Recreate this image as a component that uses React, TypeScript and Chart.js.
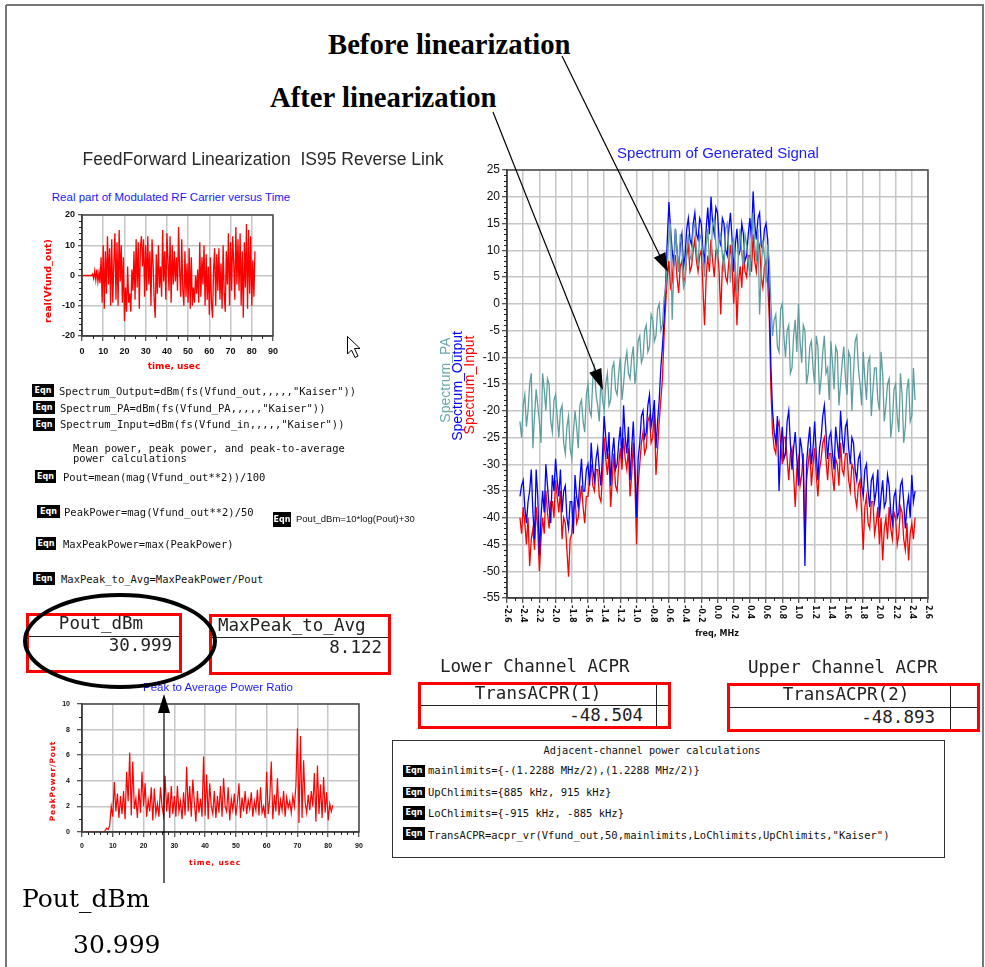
import React, { useEffect, useRef } from "react";
import { Chart, registerables } from "chart.js";

Chart.register(...registerables);

// ---------------- DATA ----------------
// Spectrum of Generated Signal (dBm) sampled on a frequency grid (MHz)
const SPEC_FREQ_START = -2.44;
const SPEC_FREQ_STEP = 0.02;

const spectrumPA = [
  -22, -25, -19, -17, -23, -20, -15, -13, -27, -21, -16, -19, -22, -26, -13, -16, -20, -14, -15, -22,
  -24, -18, -17, -21, -25, -20, -19, -26, -28, -23, -21, -27, -29, -24, -20, -23, -27, -19, -18, -22,
  -24, -17, -15, -20, -21, -14, -12, -17, -19, -22, -14, -18, -20, -15, -13, -19, -18, -12, -11, -16,
  -17, -13, -10, -18, -15, -11, -9, -13, -14, -10, -8, -15, -12, -7, -6, -11, -10, -5, -4, -9,
  -8, -2, -3, -7, -6, -1, 0, -5, -4, 1, 3, 9, 12, 15, -3, 6, 14, 10, 6, 13,
  11, 3, 4, 10, 13, 9, 8, 14, 15, 10, 7, 13, 12, 9, 5, 11, 14, 8, 9, 15,
  16, 11, 8, 12, 13, 9, 6, 14, 15, 10, 4, 11, 12, 7, 2, 10, 14, 9, 7, 13,
  11, 8, 5, 12, 17, 11, 8, 14, -2, 6, 12, 9, 4, 11, 8, 0, -6, -3, -2, -8,
  -9, -1, 0, -6, -10, -5, -4, -13, -12, -6, -3, -9, 0, -7, -11, -4, -5, -15, -13, -8,
  -7, -12, -15, -6, -8, -17, -14, -9, -6, -13, -12, -18, -7, -11, -16, -8, -9, -19, -15, -11,
  -8, -14, -17, -9, -10, -20, -13, -7, -6, -12, -15, -19, -9, -14, -18, -11, -10, -21, -16, -12,
  -12, -18, -20, -9, -13, -22, -19, -15, -14, -25, -22, -16, -15, -21, -24, -13, -17, -26, -23, -16,
  -14, -22, -21, -12, -18,
];

const spectrumOutput = [
  -36, -34, -33, -38, -41, -37, -35, -31, -39, -44, -31, -36, -47, -40, -35, -39, -30, -34, -38, -41,
  -32, -35, -29, -33, -36, -31, -39, -35, -34, -40, -42, -37, -37, -43, -32, -36, -38, -33, -29, -35,
  -35, -31, -30, -34, -26, -31, -33, -29, -27, -31, -34, -28, -21, -25, -29, -24, -34, -28, -25, -31,
  -30, -26, -23, -29, -19, -25, -28, -23, -33, -27, -22, -30, -40, -29, -26, -21, -20, -25, -24, -19,
  -17, -23, -21, -18, -27, -22, -18, -12, -8, -3, 4, 12, 19, 14, 10, 7, 14, 10, 6, 11,
  13, 7, 9, 14, 16, 12, 11, 15, 17, 13, 12, 16, 15, 10, 8, 14, 18, 13, 20, 15,
  13, 18, 17, 12, 11, 16, 15, 10, 9, 14, 17, 12, 6, 11, 14, 9, 10, 15, 13, 8,
  9, 13, 16, 12, 21, 15, 12, 16, 17, 11, 10, 14, 15, 12, 2, -12, -20, -24, -26, -21,
  -35, -27, -23, -29, -28, -22, -20, -26, -31, -27, -24, -29, -34, -25, -27, -31, -49, -30, -26, -23,
  -30, -27, -22, -28, -33, -27, -25, -21, -19, -24, -29, -25, -24, -28, -31, -23, -26, -29, -20, -25,
  -28, -23, -22, -27, -30, -25, -26, -31, -33, -29, -28, -34, -36, -31, -30, -35, -38, -33, -32, -37,
  -35, -31, -40, -36, -33, -38, -37, -32, -34, -39, -41, -36, -35, -40, -39, -34, -33, -37, -42, -38,
  -36, -40, -32, -37, -35,
];

const spectrumInput = [
  -40, -43, -38, -41, -45, -40, -49, -44, -42, -46, -38, -42, -50, -44, -40, -43, -35, -39, -42, -37,
  -37, -40, -33, -36, -39, -35, -44, -40, -41, -46, -51, -44, -43, -39, -36, -41, -40, -37, -34, -38,
  -41, -36, -36, -33, -30, -34, -35, -31, -31, -36, -37, -32, -25, -29, -32, -28, -38, -33, -28, -34,
  -35, -30, -27, -31, -25, -29, -31, -27, -36, -32, -26, -33, -45, -34, -30, -26, -24, -28, -27, -22,
  -21, -26, -25, -20, -32, -27, -22, -18, -14, -6, 0, 5, 8, 3, 4, 9, 9, 5, 2, 7,
  8, 4, 5, 9, 11, 6, 7, 10, 12, 8, 6, 9, 10, 3, -4, 5, 9, 6, 12, 8,
  5, 10, 10, 6, -2, 7, 9, 5, 4, 8, 11, 7, 0, 6, -4, 4, 7, 3, 10, 6,
  5, 9, 9, 6, 13, 8, 6, 10, 11, 5, 3, 7, 8, 4, -3, -16, -24, -27, -28, -23,
  -22, -26, -30, -25, -25, -29, -33, -28, -27, -32, -38, -31, -29, -34, -32, -28, -45, -33, -30, -27,
  -34, -30, -27, -32, -36, -31, -29, -26, -25, -29, -33, -28, -28, -32, -35, -29, -30, -34, -26, -31,
  -32, -28, -28, -33, -35, -30, -31, -36, -38, -34, -33, -39, -46, -38, -36, -41, -42, -37, -37, -43,
  -41, -38, -45, -40, -48, -42, -40, -44, -38, -42, -44, -39, -40, -45, -43, -38, -39, -44, -46, -41,
  -48, -43, -41, -44, -40,
];

const specXTickValues = [
  -2.6, -2.4, -2.2, -2.0, -1.8, -1.6, -1.4, -1.2, -1.0, -0.8, -0.6, -0.4, -0.2,
  0.0, 0.2, 0.4, 0.6, 0.8, 1.0, 1.2, 1.4, 1.6, 1.8, 2.0, 2.2, 2.4, 2.6,
];
const specXTickLabels = [
  "-2.6", "-2.4", "-2.2", "-2.0", "-1.8", "-1.6", "-1.4", "-1.2", "-1.0", "-0.8", "-0.6", "-0.4", "-0.2",
  "0.0", "0.2", "0.4", "0.6", "0.8", "1.0", "1.2", "1.4", "1.6", "1.8", "2.0", "2.2", "2.4", "2.6",
];
const specYTickValues = [-55, -50, -45, -40, -35, -30, -25, -20, -15, -10, -5, 0, 5, 10, 15, 20, 25];
const specYTickLabels = ["-55", "-50", "-45", "-40", "-35", "-30", "-25", "-20", "-15", "-10", "-5", "0", "5", "10", "15", "20", "25"];

// Real part of modulated RF carrier versus time (usec)
const TIME_START = 0;
const TIME_STEP = 0.5;
const realVfundOut = [
  0, 0, 0, 0, 0, 0, 0, 0, 0, 0,
  0.5, -1, 1.5, -1.5, 2, -2, 1, -2.5,
  6, -9, 10, -11, 8, -6, 13, -3, 9, -10,
  12, -9, 4, 14, -8, 11, -10, 15, -2, 10,
  -9, 6, -15, -4, -12, 3, -9, -6, -12, 2,
  -5, 8, -8, 12, -4, 11, -11, 9, 13, 3,
  12, -7, 10, -5, 13, -3, 8, -10, 12, 4,
  -8, -14, 7, -6, 10, -4, 3, -7, 15, -2,
  8, -8, 14, 5, -5, 13, -9, 10, -3, 8,
  -2, 6, -5, 16, 2, -7, 12, -5, -10, 8,
  -7, 4, -9, 9, -11, 6, -10, -4, -9, 0,
  -6, 2, -9, 11, -7, 6, -3, 10, -10, 7,
  -8, 3, -13, 6, -9, -14, 2, 9, -10, 7,
  -5, 9, -8, 4, -11, 10, -6, -12, 8, -3,
  14, -10, 11, -5, 13, 4, -8, 16, -3, 12,
  -5, 14, -10, 8, -14, 11, -4, 17, -11, 15,
  -6, 13, -10, 5, -7, 8,
];
const timeXTickValues = [0, 10, 20, 30, 40, 50, 60, 70, 80, 90];
const timeXTickLabels = ["0", "10", "20", "30", "40", "50", "60", "70", "80", "90"];
const timeYTickValues = [-20, -10, 0, 10, 20];
const timeYTickLabels = ["-20", "-10", "0", "10", "20"];

// Peak to average power ratio versus time (usec)
const peakToAvg = [
  0, 0, 0, 0, 0, 0, 0, 0, 0, 0,
  0, 0, 0, 0, 0, 0.1, 0.3, 0.2,
  0.5, 2.0, 1.2, 3.9, 1.6, 3.0, 1.1, 2.8, 1.4, 3.2,
  1.0, 4.7, 2.4, 6.2, 1.3, 5.5, 1.8, 2.6, 1.1, 3.4,
  1.5, 4.7, 2.0, 3.8, 1.2, 2.5, 1.6, 3.5, 0.9, 3.4,
  1.4, 2.2, 1.2, 3.5, 2.0, 1.3, 4.4, 1.6, 3.1, 1.1,
  3.6, 1.4, 2.8, 1.2, 3.6, 1.6, 2.4, 1.0, 3.1, 1.3,
  5.1, 1.6, 3.6, 1.2, 4.1, 2.3, 0.8, 3.2, 1.5, 2.6,
  1.2, 5.9, 1.3, 4.5, 1.0, 3.8, 2.0, 1.4, 3.2, 1.1,
  2.8, 1.5, 3.6, 1.2, 4.2, 2.0, 1.6, 3.5, 0.9, 2.6,
  1.7, 3.0, 1.3, 2.3, 3.8, 1.1, 2.7, 1.6, 3.2, 1.4,
  2.5, 1.8, 3.1, 1.2, 2.4, 1.7, 3.3, 1.3, 3.5, 1.5,
  2.0, 1.1, 4.7, 1.4, 2.6, 5.5, 1.0, 2.9, 1.6, 4.2,
  1.3, 2.5, 1.7, 3.2, 1.2, 2.7, 1.9, 2.4, 1.5, 2.8,
  2.0, 3.6, 8.1, 0.7, 7.5, 1.1, 5.6, 2.3, 1.5, 2.9,
  1.7, 3.2, 2.0, 4.6, 0.8, 5.2, 1.4, 3.7, 1.1, 4.3,
  1.5, 3.1, 0.9, 2.2, 1.6, 2.1,
];
const parXTickValues = [0, 10, 20, 30, 40, 50, 60, 70, 80, 90];
const parXTickLabels = ["0", "10", "20", "30", "40", "50", "60", "70", "80", "90"];
const parYTickValues = [0, 2, 4, 6, 8, 10];
const parYTickLabels = ["0", "2", "4", "6", "8", "10"];

// ---------------- STYLE ----------------
const SANS = "'Liberation Sans', Arial, sans-serif";
const MONO = "'DejaVu Sans Mono', 'Liberation Mono', monospace";
const DJS = "'DejaVu Sans', sans-serif";
const GRID = "#c6c6c6";
const TEAL = "#5f9ea0";
const BLUE = "#0000ff";
const RED = "#ff0000";

type Series = { values: number[]; x0: number; dx: number; color: string };
type PlotSpec = {
  series: Series[];
  xTicks: number[];
  xLabels: string[];
  yTicks: number[];
  yLabels: string[];
  yAxisWidth: number;
  xAxisHeight: number;
  padTop: number;
  padRight: number;
  tickFont: { family: string; size: number; weight: string };
  yTickLen: number;
  yTickPad: number;
  xTickLen: number;
  xTickPad: number;
  xMinorDiv: number;
  yMinorDiv: number;
  rotatedX?: { font: string; offset: number };
  lineWidth: number;
};

function buildConfig(p: PlotSpec): any {
  const decor = {
    id: "decor",
    afterDraw(chart: any) {
      const { ctx, chartArea: a } = chart;
      const xs = chart.scales.x;
      const ys = chart.scales.y;
      ctx.save();
      ctx.strokeStyle = "#4a4a4a";
      ctx.lineWidth = 1.5;
      ctx.strokeRect(a.left, a.top, a.right - a.left, a.bottom - a.top);
      ctx.strokeStyle = "#222";
      ctx.lineWidth = 1;
      for (let i = 0; i < p.xTicks.length - 1; i++) {
        for (let j = 1; j < p.xMinorDiv; j++) {
          const v = p.xTicks[i] + ((p.xTicks[i + 1] - p.xTicks[i]) * j) / p.xMinorDiv;
          const px = Math.round(xs.getPixelForValue(v)) + 0.5;
          ctx.beginPath();
          ctx.moveTo(px, a.bottom);
          ctx.lineTo(px, a.bottom + 3);
          ctx.stroke();
        }
      }
      for (let i = 0; i < p.yTicks.length - 1; i++) {
        for (let j = 1; j < p.yMinorDiv; j++) {
          const v = p.yTicks[i] + ((p.yTicks[i + 1] - p.yTicks[i]) * j) / p.yMinorDiv;
          const py = Math.round(ys.getPixelForValue(v)) + 0.5;
          ctx.beginPath();
          ctx.moveTo(a.left - 3, py);
          ctx.lineTo(a.left, py);
          ctx.stroke();
        }
      }
      if (p.rotatedX) {
        ctx.fillStyle = "#111";
        ctx.font = p.rotatedX.font;
        ctx.textAlign = "left";
        ctx.textBaseline = "middle";
        p.xTicks.forEach((v, i) => {
          const px = xs.getPixelForValue(v);
          ctx.save();
          ctx.translate(px, a.bottom + p.rotatedX!.offset);
          ctx.rotate(Math.PI / 2);
          ctx.fillText(p.xLabels[i], 0, 0);
          ctx.restore();
        });
      }
      ctx.restore();
    },
  };

  return {
    type: "line",
    data: {
      datasets: p.series.map((s) => ({
        data: s.values.map((v, i) => ({ x: s.x0 + i * s.dx, y: v })),
        borderColor: s.color,
        backgroundColor: s.color,
        borderWidth: p.lineWidth,
        pointRadius: 0,
        tension: 0,
        fill: false,
      })),
    },
    options: {
      responsive: false,
      animation: false,
      devicePixelRatio: 1,
      events: [],
      layout: { padding: { top: p.padTop, right: p.padRight, left: 0, bottom: 0 } },
      plugins: { legend: { display: false }, title: { display: false }, tooltip: { enabled: false } },
      scales: {
        x: {
          type: "linear",
          min: p.xTicks[0],
          max: p.xTicks[p.xTicks.length - 1],
          afterBuildTicks: (s: any) => {
            s.ticks = p.xTicks.map((v) => ({ value: v }));
          },
          afterFit: (s: any) => {
            s.height = p.xAxisHeight;
          },
          grid: { color: GRID, lineWidth: 1.5, tickLength: p.xTickLen, tickColor: "#222", tickWidth: 1 },
          border: { color: "#222", width: 1.5 },
          ticks: {
            display: !p.rotatedX,
            autoSkip: false,
            maxRotation: 0,
            minRotation: 0,
            padding: p.xTickPad,
            color: "#111",
            font: p.tickFont,
            callback: (_v: any, i: number) => p.xLabels[i],
          },
        },
        y: {
          type: "linear",
          min: p.yTicks[0],
          max: p.yTicks[p.yTicks.length - 1],
          afterBuildTicks: (s: any) => {
            s.ticks = p.yTicks.map((v) => ({ value: v }));
          },
          afterFit: (s: any) => {
            s.width = p.yAxisWidth;
          },
          grid: { color: GRID, lineWidth: 1.5, tickLength: p.yTickLen, tickColor: "#222", tickWidth: 1 },
          border: { color: "#222", width: 1.5 },
          ticks: {
            autoSkip: false,
            padding: p.yTickPad,
            color: "#111",
            font: p.tickFont,
            callback: (_v: any, i: number) => p.yLabels[i],
          },
        },
      },
    },
    plugins: [decor],
  };
}

function ChartCanvas(props: { left: number; top: number; width: number; height: number; spec: PlotSpec }) {
  const ref = useRef<HTMLCanvasElement | null>(null);
  useEffect(() => {
    const chart = new Chart(ref.current as HTMLCanvasElement, buildConfig(props.spec));
    return () => chart.destroy();
  }, []);
  return (
    <canvas
      ref={ref}
      width={props.width}
      height={props.height}
      style={{ position: "absolute", left: props.left, top: props.top, width: props.width, height: props.height }}
    />
  );
}

function T(props: {
  x: number;
  y: number;
  text: string;
  size: number;
  family?: string;
  color?: string;
  weight?: string | number;
  align?: "left" | "center" | "right";
  rotate?: number;
  spacing?: number;
}) {
  const align = props.align || "left";
  const tx = align === "left" ? "0" : align === "center" ? "-50%" : "-100%";
  const transform = props.rotate
    ? `translate(-50%, -50%) rotate(${props.rotate}deg)`
    : `translate(${tx}, -50%)`;
  return (
    <div
      style={{
        position: "absolute",
        left: props.x,
        top: props.y,
        transform,
        fontSize: props.size,
        fontFamily: props.family || SANS,
        color: props.color || "#111",
        fontWeight: props.weight || "normal",
        letterSpacing: props.spacing || 0,
        lineHeight: 1,
        whiteSpace: "pre",
      }}
    >
      {props.text}
    </div>
  );
}

function EqnBox(props: { x: number; y: number; w?: number; h?: number }) {
  const w = props.w || 22;
  const h = props.h || 13;
  return (
    <div
      style={{
        position: "absolute",
        left: props.x,
        top: props.y - h / 2,
        width: w,
        height: h,
        background: "#000",
        color: "#fff",
        fontFamily: DJS,
        fontSize: 8,
        fontWeight: "bold",
        lineHeight: `${h}px`,
        textAlign: "center",
      }}
    >
      Eqn
    </div>
  );
}

function Box(props: { x: number; y: number; w: number; h: number; border: string }) {
  return (
    <div
      style={{
        position: "absolute",
        left: props.x,
        top: props.y,
        width: props.w,
        height: props.h,
        border: props.border,
        boxSizing: "border-box",
      }}
    />
  );
}

function Line(props: { x: number; y: number; w: number; h: number; color?: string }) {
  return (
    <div
      style={{ position: "absolute", left: props.x, top: props.y, width: props.w, height: props.h, background: props.color || "#222" }}
    />
  );
}

function arrowHead(x1: number, y1: number, x2: number, y2: number, len: number, half: number) {
  const dx = x2 - x1;
  const dy = y2 - y1;
  const d = Math.sqrt(dx * dx + dy * dy);
  const ux = dx / d;
  const uy = dy / d;
  const bx = x2 - ux * len;
  const by = y2 - uy * len;
  return `${x2},${y2} ${bx - uy * half},${by + ux * half} ${bx + uy * half},${by - ux * half}`;
}

const spectrumSpec: PlotSpec = {
  series: [
    { values: spectrumPA, x0: SPEC_FREQ_START, dx: SPEC_FREQ_STEP, color: TEAL },
    { values: spectrumOutput, x0: SPEC_FREQ_START, dx: SPEC_FREQ_STEP, color: BLUE },
    { values: spectrumInput, x0: SPEC_FREQ_START, dx: SPEC_FREQ_STEP, color: RED },
  ],
  xTicks: specXTickValues,
  xLabels: specXTickLabels,
  yTicks: specYTickValues,
  yLabels: specYTickLabels,
  yAxisWidth: 77,
  xAxisHeight: 52,
  padTop: 30,
  padRight: 22,
  tickFont: { family: SANS, size: 12, weight: "normal" },
  yTickLen: 5,
  yTickPad: 2,
  xTickLen: 5,
  xTickPad: 2,
  xMinorDiv: 2,
  yMinorDiv: 5,
  rotatedX: { font: `bold 8px ${DJS}`, offset: 7 },
  lineWidth: 1.3,
};

const timeSpec: PlotSpec = {
  series: [{ values: realVfundOut, x0: TIME_START, dx: TIME_STEP, color: RED }],
  xTicks: timeXTickValues,
  xLabels: timeXTickLabels,
  yTicks: timeYTickValues,
  yLabels: timeYTickLabels,
  yAxisWidth: 62,
  xAxisHeight: 49,
  padTop: 10,
  padRight: 17,
  tickFont: { family: SANS, size: 9, weight: "bold" },
  yTickLen: 4,
  yTickPad: 3,
  xTickLen: 5,
  xTickPad: 5,
  xMinorDiv: 2,
  yMinorDiv: 5,
  lineWidth: 1.3,
};

const parSpec: PlotSpec = {
  series: [{ values: peakToAvg, x0: TIME_START, dx: TIME_STEP, color: RED }],
  xTicks: parXTickValues,
  xLabels: parXTickLabels,
  yTicks: parYTickValues,
  yLabels: parYTickLabels,
  yAxisWidth: 62,
  xAxisHeight: 48,
  padTop: 14,
  padRight: 11,
  tickFont: { family: SANS, size: 7, weight: "bold" },
  yTickLen: 5,
  yTickPad: 7,
  xTickLen: 5,
  xTickPad: 5,
  xMinorDiv: 5,
  yMinorDiv: 2,
  lineWidth: 1.2,
};

export default function App() {
  const eqFont = 10.5;
  const tblFont = 17.5;
  const serifBold = "'Liberation Serif', 'Times New Roman', serif";
  return (
    <div
      style={{
        position: "fixed",
        left: 0,
        top: 0,
        width: 985,
        height: 967,
        background: "#fff",
        overflow: "hidden",
      }}
    >
      {/* Charts */}
      <ChartCanvas left={430} top={140} width={520} height={510} spec={spectrumSpec} />
      <ChartCanvas left={20} top={205} width={270} height={180} spec={timeSpec} />
      <ChartCanvas left={20} top={690} width={350} height={190} spec={parSpec} />

      {/* Titles */}
      <T x={263} y={160} text={"FeedForward Linearization  IS95 Reverse Link"} size={17.5} color="#2a2a2a" align="center" />
      <T x={171} y={198} text="Real part of Modulated RF Carrier versus Time" size={11.5} color="#1a1aff" align="center" />
      <T x={718} y={152} text="Spectrum of Generated Signal" size={15} color="#1a1aff" align="center" />
      <T x={218} y={688} text="Peak to Average Power Ratio" size={11.5} color="#1a1aff" align="center" />

      {/* Axis titles */}
      <T x={48} y={281} text="real(Vfund_out)" size={9.5} family={DJS} weight="bold" color={RED} rotate={-90} />
      <T x={174} y={366} text="time, usec" size={9} family={DJS} weight="bold" color={RED} align="center" />
      <T x={53} y={781} text="PeakPower/Pout" size={7.5} family={DJS} weight="bold" color={RED} rotate={-90} spacing={0.8} />
      <T x={215} y={863} text="time, usec" size={7.5} family={DJS} weight="bold" color={RED} align="center" spacing={0.8} />
      <T x={717} y={634} text="freq, MHz" size={8} family={DJS} weight="bold" color="#111" align="center" />
      <T x={445} y={380} text="Spectrum_PA" size={14} color="#6aa9ac" rotate={-90} />
      <T x={457} y={386} text="Spectrum_Output" size={14} color={BLUE} rotate={-90} />
      <T x={469} y={385} text="Spectrum_Input" size={14} color={RED} rotate={-90} />

      {/* Equations (left) */}
      <EqnBox x={32} y={390} />
      <T x={59} y={391} text={'Spectrum_Output=dBm(fs(Vfund_out,,,,,"Kaiser"))'} size={eqFont} family={MONO} />
      <EqnBox x={33} y={407.5} />
      <T x={60} y={408} text={'Spectrum_PA=dBm(fs(Vfund_PA,,,,,"Kaiser"))'} size={eqFont} family={MONO} />
      <EqnBox x={33} y={424.5} />
      <T x={60} y={424} text={'Spectrum_Input=dBm(fs(Vfund_in,,,,,"Kaiser"))'} size={eqFont} family={MONO} />
      <T x={73} y={448} text="Mean power, peak power, and peak-to-average" size={eqFont} family={MONO} />
      <T x={73} y={458} text="power calculations" size={eqFont} family={MONO} />
      <EqnBox x={35} y={476.5} w={21} />
      <T x={63} y={477} text="Pout=mean(mag(Vfund_out**2))/100" size={eqFont} family={MONO} />
      <EqnBox x={37} y={511.5} w={23} />
      <T x={64} y={512} text="PeakPower=mag(Vfund_out**2)/50" size={eqFont} family={MONO} />
      <EqnBox x={273} y={519.5} w={18} h={15} />
      <T x={296} y={519} text="Pout_dBm=10*log(Pout)+30" size={9.5} family={"'Liberation Sans Narrow', 'Liberation Sans', sans-serif"} />
      <EqnBox x={36} y={543.5} w={20} />
      <T x={63} y={544} text="MaxPeakPower=max(PeakPower)" size={eqFont} family={MONO} />
      <EqnBox x={33} y={578.5} />
      <T x={61} y={579} text="MaxPeak_to_Avg=MaxPeakPower/Pout" size={eqFont} family={MONO} />

      {/* Pout_dBm table */}
      <Box x={26} y={613} w={156} h={60} border={`3px solid ${RED}`} />
      <Line x={29} y={636} w={150} h={1} />
      <T x={101} y={624} text="Pout_dBm" size={tblFont} family={MONO} color="#222" align="center" />
      <T x={172} y={646} text="30.999" size={tblFont} family={MONO} color="#222" align="right" />

      {/* MaxPeak_to_Avg table */}
      <Box x={209} y={614} w={182} h={61} border={`3px solid ${RED}`} />
      <Line x={212} y={637} w={176} h={1} />
      <T x={218} y={626} text="MaxPeak_to_Avg" size={tblFont} family={MONO} color="#222" />
      <T x={382} y={648} text="8.122" size={tblFont} family={MONO} color="#222" align="right" />

      {/* ACPR tables */}
      <T x={440} y={667} text="Lower Channel ACPR" size={tblFont} family={MONO} color="#222" />
      <T x={748} y={668} text="Upper Channel ACPR" size={tblFont} family={MONO} color="#222" />
      <Box x={418} y={682} w={253} h={47} border={`3px solid ${RED}`} />
      <Line x={421} y={705} w={247} h={1} />
      <Line x={656} y={685} w={1} h={41} />
      <T x={538} y={694} text="TransACPR(1)" size={tblFont} family={MONO} color="#222" align="center" />
      <T x={643} y={716} text="-48.504" size={tblFont} family={MONO} color="#222" align="right" />
      <Box x={727} y={683} w={253} h={49} border={`3px solid ${RED}`} />
      <Line x={730} y={707} w={247} h={1} />
      <Line x={950} y={686} w={1} h={43} />
      <T x={846} y={695} text="TransACPR(2)" size={tblFont} family={MONO} color="#222" align="center" />
      <T x={935} y={718} text="-48.893" size={tblFont} family={MONO} color="#222" align="right" />

      {/* Adjacent-channel power box */}
      <Box x={392} y={740} w={553} h={118} border="1.5px solid #333" />
      <T x={652} y={750} text="Adjacent-channel power calculations" size={10.3} family={MONO} align="center" />
      <EqnBox x={403} y={770.5} h={12} />
      <T x={428} y={770} text="mainlimits={-(1.2288 MHz/2),(1.2288 MHz/2)}" size={eqFont} family={MONO} />
      <EqnBox x={403} y={792} h={11} />
      <T x={428} y={792} text="UpChlimits={885 kHz, 915 kHz}" size={eqFont} family={MONO} />
      <EqnBox x={403} y={812.5} h={14} />
      <T x={428} y={813} text="LoChlimits={-915 kHz, -885 kHz}" size={eqFont} family={MONO} />
      <EqnBox x={403} y={833.5} h={13} />
      <T x={428} y={835} text={'TransACPR=acpr_vr(Vfund_out,50,mainlimits,LoChlimits,UpChlimits,"Kaiser")'} size={eqFont} family={MONO} />

      {/* Annotations */}
      <T x={328} y={44} text="Before linearization" size={28.7} family={serifBold} weight="bold" color="#000" />
      <T x={270} y={97} text="After linearization" size={28.7} family={serifBold} weight="bold" color="#000" />
      <T x={22} y={898} text="Pout_dBm" size={25} family={"'DejaVu Serif', serif"} color="#000" />
      <T x={73} y={944} text="30.999" size={25} family={"'DejaVu Serif', serif"} color="#000" />

      <svg
        width={985}
        height={967}
        style={{ position: "absolute", left: 0, top: 0, pointerEvents: "none" }}
      >
        {/* page frame */}
        <line x1={6} y1={5} x2={6} y2={967} stroke="#777" strokeWidth={2} />
        <line x1={6} y1={5} x2={984} y2={5} stroke="#777" strokeWidth={2} />
        <line x1={983} y1={5} x2={983} y2={967} stroke="#777" strokeWidth={2} />
        {/* Before linearization arrow */}
        <line x1={562} y1={56} x2={663} y2={262} stroke="#000" strokeWidth={1.2} />
        <polygon points={arrowHead(562, 56, 668, 272, 19, 6.5)} fill="#000" />
        {/* After linearization arrow */}
        <line x1={493} y1={112} x2={597} y2={374} stroke="#000" strokeWidth={1.2} />
        <polygon points={arrowHead(493, 112, 603, 390, 21, 6.5)} fill="#000" />
        {/* Pout ellipse and arrow */}
        <ellipse cx={120} cy={641} rx={95} ry={46} fill="none" stroke="#000" strokeWidth={4} />
        <line x1={164} y1={883} x2={164} y2={705} stroke="#000" strokeWidth={1.2} />
        <polygon points={arrowHead(164, 883, 164, 694, 19, 6)} fill="#000" />
        {/* mouse cursor */}
        <path d="M347.5 336.5 L347.5 354 L351.5 350 L355 357.5 L358 356 L354.5 348.5 L360 348.5 Z" fill="#fff" stroke="#000" strokeWidth={1} />
      </svg>
    </div>
  );
}
